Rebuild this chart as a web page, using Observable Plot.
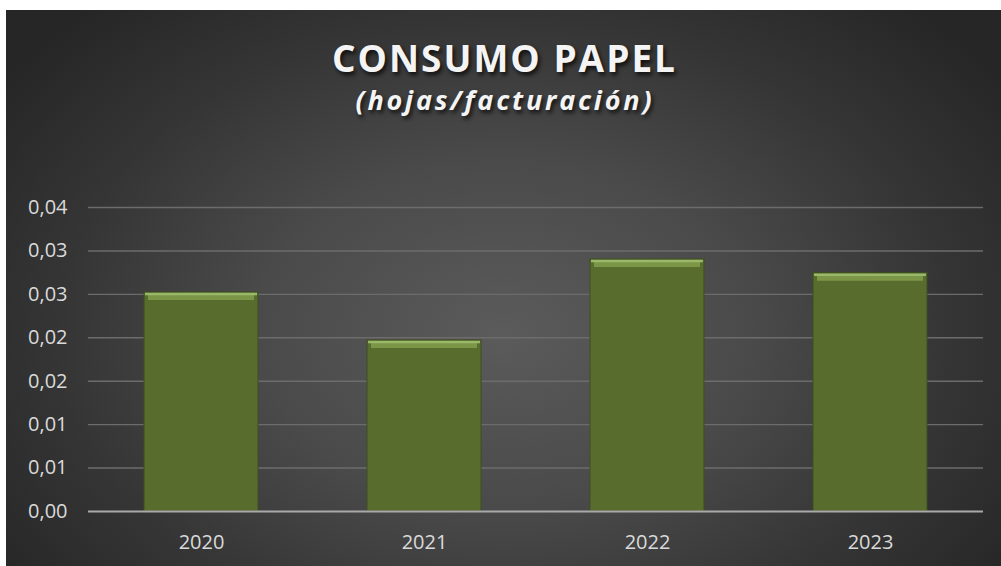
<!DOCTYPE html>
<html>
<head>
<meta charset="utf-8">
<script src="https://cdn.jsdelivr.net/npm/d3@7"></script>
<script src="https://cdn.jsdelivr.net/npm/@observablehq/plot@0.6"></script>
<style>
  html, body { margin: 0; padding: 0; background: #ffffff; width: 1001px; height: 566px; overflow: hidden; }
  #frame {
    position: absolute; left: 6px; top: 10px; width: 995px; height: 556px;
    background: radial-gradient(ellipse 62% 78% at 50% 58%, #5b5b5b 0%, #4a4a4a 40%, #353535 72%, #262626 100%);
    overflow: hidden;
  }
  .title {
    position: absolute; left: 0; width: 100%; text-align: center;
    font-family: "Open Sans", sans-serif; color: #f4f4f4;
    text-shadow: 2px 3px 4px rgba(0,0,0,0.75);
    line-height: 1; white-space: nowrap; box-sizing: border-box;
  }
  #t1 { top: 29px; font-size: 37px; font-weight: 700; letter-spacing: 2px; padding-left: 2px; }
  #t2 { top: 76px; font-size: 27px; font-weight: 700; font-style: italic; letter-spacing: 2.8px; padding-left: 2.8px; }
  #chart { position: absolute; left: 0; top: 150px; }
</style>
</head>
<body>
<div id="frame">
  <div class="title" id="t1">CONSUMO PAPEL</div>
  <div class="title" id="t2">(hojas/facturación)</div>
  <div id="chart"></div>
</div>
<script>
const years = ["2020", "2021", "2022", "2023"];
const values = [0.02521, 0.01969, 0.02901, 0.02744];
const yTicks = [0, 0.005, 0.01, 0.015, 0.02, 0.025, 0.03, 0.035];
const yTickLabels = ["0,00", "0,01", "0,01", "0,02", "0,02", "0,03", "0,03", "0,04"];

const data = years.map((year, i) => ({year, value: values[i]}));

const plot = Plot.plot({
  width: 995,
  height: 406,
  marginLeft: 82,
  marginRight: 18,
  marginTop: 47,
  marginBottom: 55,
  style: {background: "transparent", color: "#dadada", fontFamily: "'Open Sans', sans-serif", fontSize: "20px", overflow: "visible"},
  x: {domain: years, paddingInner: 0.49, paddingOuter: 0.245, label: null},
  y: {domain: [0, 0.035], label: null},
  marks: [
    Plot.gridY(yTicks.slice(1), {stroke: "#6c6c6c", strokeOpacity: 1, strokeWidth: 1.4}),
    Plot.barY(data, {x: "year", y: "value", fill: "#586c2e", stroke: "#3e4e1e", strokeWidth: 1,
      style: "filter: drop-shadow(2px 1px 3px rgba(0,0,0,0.65))"}),
    Plot.tickY(data, {x: "year", y: "value", stroke: "#7c9648", strokeWidth: 6, dy: 4.5, inset: 4}),
    Plot.tickY(data, {x: "year", y: "value", stroke: "#9ab86a", strokeWidth: 2.5, dy: 1.5, inset: 1}),
    Plot.ruleY([0], {stroke: "#a9a9a9", strokeWidth: 2}),
    Plot.axisY({ticks: yTicks, tickSize: 0, tickPadding: 21, tickFormat: d => yTickLabels[Math.round(d / 0.005)], fill: "#dadada", fontSize: 20}),
    Plot.axisX({tickSize: 0, tickPadding: 23, fill: "#dadada", fontSize: 20})
  ]
});
document.getElementById("chart").appendChild(plot);
</script>
</body>
</html>
